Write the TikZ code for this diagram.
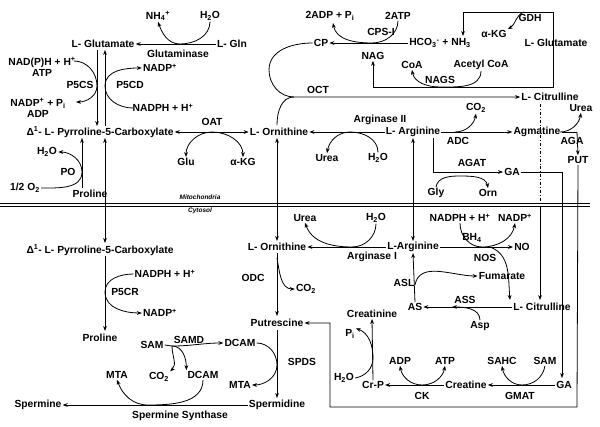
\documentclass[tikz,border=0pt]{standalone}
\usepackage{fontspec}
\setmainfont{Liberation Sans}
\usetikzlibrary{arrows.meta}
\newcommand{\sbs}[1]{\textsubscript{#1}}
\newcommand{\sps}[1]{\textsuperscript{#1}}
\tikzset{
  lb/.style={inner sep=1pt,font=\fontsize{10.3}{11}\selectfont\bfseries},
  sm/.style={inner sep=1pt,font=\fontsize{6.5}{7}\selectfont\bfseries\itshape},
  ar/.style={-{Stealth[length=5pt,width=3.8pt]},thick},
  dar/.style={{Stealth[length=5pt,width=3.8pt]}-{Stealth[length=5pt,width=3.8pt]},thick},
  ln/.style={thick}
}
\begin{document}
\begin{tikzpicture}[x=1pt,y=-1pt]
\useasboundingbox (0,0) rectangle (600,427);

% mitochondria
\node[lb] (nh4) at (158,16) {NH\sbs{4}\sps{+}};
\node[lb] (wa) at (210,16) {H\sbs{2}O};
\node[lb] (glu1) at (103,44) {L- Glutamate};
\node[lb] (gln) at (232,44) {L- Gln};
\node[lb] (gnase) at (178,54) {Glutaminase};
\node[lb,align=center] (nadph1) at (42,67) {NAD(P)H + H\sps{+}\\ATP};
\node[lb,align=center] (nadp1) at (38,108) {NADP\sps{+} + P\sbs{i}\\ADP};
\node[lb] (p5cs) at (80,85) {P5CS};
\node[lb] (p5cd) at (130,85) {P5CD};
\node[lb] (nadp2) at (160,68) {NADP\sps{+}};
\node[lb] (nadph2) at (163,108) {NADPH + H\sps{+}};
\node[lb] (p5ca) at (100,132) {Δ\sps{1}- L- Pyrroline-5-Carboxylate};
\node[lb] (oat) at (212,122) {OAT};
\node[lb] (glu2) at (186,162) {Glu};
\node[lb] (akg1) at (243,162) {α-KG};
\node[lb] (orna) at (279,132) {L- Ornithine};
\node[lb] (wb) at (47,152) {H\sbs{2}O};
\node[lb] (po) at (68,172) {PO};
\node[lb] (oxy) at (25,188) {1/2 O\sbs{2}};
\node[lb] (pro1) at (90,194) {Proline};
\node[sm] (mito) at (200,197) {Mitochondria};
\node[sm] (cyto) at (200,211) {Cytosol};

\node[lb] (cp) at (321,43) {CP};
\node[lb] (adp2) at (330,16) {2ADP + P\sbs{i}};
\node[lb] (atp2) at (398,16) {2ATP};
\node[lb] (cps) at (381,32) {CPS-I};
\node[lb] (hco) at (440,43) {HCO\sbs{3}\sps{-} + NH\sbs{3}};
\node[lb] (nag) at (373,56) {NAG};
\node[lb] (gdh) at (530,18) {GDH};
\node[lb] (akg2) at (494,34) {α-KG};
\node[lb] (glu3) at (556,43) {L- Glutamate};
\node[lb] (coa) at (412,65) {CoA};
\node[lb] (acoa) at (481,65) {Acetyl CoA};
\node[lb] (nags) at (440,80) {NAGS};
\node[lb] (oct) at (318,90) {OCT};
\node[lb] (cita) at (550,97) {L- Citrulline};
\node[lb] (arg2) at (380,120) {Arginase II};
\node[lb] (arga) at (413,132) {L- Arginine};
\node[lb] (urea1) at (327,158) {Urea};
\node[lb] (wc) at (378,158) {H\sbs{2}O};
\node[lb] (co2a) at (476,108) {CO\sbs{2}};
\node[lb] (adc) at (458,141) {ADC};
\node[lb] (agm) at (537,132) {Agmatine};
\node[lb] (urea2) at (581,108) {Urea};
\node[lb] (aga) at (572,141) {AGA};
\node[lb] (put) at (578,160) {PUT};
\node[lb] (agat) at (472,163) {AGAT};
\node[lb] (gaa) at (512,172) {GA};
\node[lb] (gly) at (436,193) {Gly};
\node[lb] (orn3) at (488,193) {Orn};

% cytosol
\node[lb] (urea3) at (305,218) {Urea};
\node[lb] (wd) at (376,218) {H\sbs{2}O};
\node[lb] (ornb) at (277,247) {L- Ornithine};
\node[lb] (argb) at (413,247) {L-Arginine};
\node[lb] (arg1) at (372,257) {Arginase I};
\node[lb] (nadph3) at (460,218) {NADPH + H\sps{+}};
\node[lb] (nadp3) at (515,218) {NADP\sps{+}};
\node[lb] (bh4) at (472,238) {BH\sbs{4}};
\node[lb] (no) at (522,247) {NO};
\node[lb] (nos) at (485,258) {NOS};
\node[lb] (asl) at (404,283) {ASL};
\node[lb] (fum) at (502,276) {Fumarate};
\node[lb] (as) at (415,307) {AS};
\node[lb] (ass) at (465,300) {ASS};
\node[lb] (citb) at (542,307) {L- Citrulline};
\node[lb] (asp) at (480,326) {Asp};
\node[lb] (crn) at (372,314) {Creatinine};
\node[lb] (pi) at (350,334) {P\sbs{i}};
\node[lb] (we) at (344,378) {H\sbs{2}O};
\node[lb] (crp) at (373,385) {Cr-P};
\node[lb] (adp3) at (400,361) {ADP};
\node[lb] (atp3) at (445,361) {ATP};
\node[lb] (cre) at (466,385) {Creatine};
\node[lb] (ck) at (422,396) {CK};
\node[lb] (sahc) at (502,361) {SAHC};
\node[lb] (sam2) at (545,361) {SAM};
\node[lb] (gmat) at (520,396) {GMAT};
\node[lb] (gab) at (564,385) {GA};
\node[lb] (p5cb) at (100,250) {Δ\sps{1}- L- Pyrroline-5-Carboxylate};
\node[lb] (nadph4) at (165,274) {NADPH + H\sps{+}};
\node[lb] (p5cr) at (125,292) {P5CR};
\node[lb] (nadp4) at (160,313) {NADP\sps{+}};
\node[lb] (pro2) at (100,338) {Proline};
\node[lb] (odc) at (253,278) {ODC};
\node[lb] (co2b) at (306,289) {CO\sbs{2}};
\node[lb] (putr) at (277,323) {Putrescine};
\node[lb] (spds) at (302,362) {SPDS};
\node[lb] (sam1) at (152,345) {SAM};
\node[lb] (samd) at (189,340) {SAMD};
\node[lb] (dcam1) at (240,343) {DCAM};
\node[lb] (co2c) at (159,377) {CO\sbs{2}};
\node[lb] (dcam2) at (203,375) {DCAM};
\node[lb] (mta1) at (117,375) {MTA};
\node[lb] (mta2) at (240,385) {MTA};
\node[lb] (spd) at (277,405) {Spermidine};
\node[lb] (spm) at (38,405) {Spermine};
\node[lb] (spms) at (180,416) {Spermine Synthase};

% membrane
\draw[ln] (0,203) -- (590,203);
\draw[ln] (0,206.5) -- (590,206.5);

% glutaminase
\draw[ar] (gln) -- (glu1);
\draw[ar] (wa.south) to[out=-90,in=0] (180,44) to[out=180,in=-70] (nh4.south);
% P5CS / P5CD
\draw[ar] (97,50) -- (97,126);
\draw[ar] (105,126) -- (105,50);
\draw[ar] (74,61) to[out=0,in=90] (97,86) to[out=-90,in=0] (76,102);
\draw[ar] (133,108) to[out=180,in=-90] (105,86) to[out=90,in=180] (nadp2.west);
% OAT
\draw[dar] (p5ca) -- (orna);
\draw[ar] (212,132) to[out=180,in=90] (glu2.north);
\draw[ar] (212,132) to[out=0,in=90] (akg1.north);
% PO
\draw[ar] (82,188) -- (82,138);
\draw[ar] (oxy.east) to[out=0,in=-90] (82,172) to[out=90,in=0] (wb.east);
% CPS-I
\draw[ar] (hco) -- (cp);
\draw[ar] (atp2.south) to[out=-90,in=0] (372,43) to[out=180,in=-80] (333,23);
% GDH / NAGS box
\draw[ar] (553,12) -- (463,12) -- (463,36);
\draw[ar] (524,12) to[out=-160,in=30] (akg2.north east);
\draw[ar] (553,12) -- (553,87) -| (nag.south);
\draw[ar] (acoa.south) to[out=-90,in=0] (440,87) to[out=180,in=-80] (coa.south);
% OCT
\coordinate (oj) at (294,97);
\draw[ar] (cp.west) to[out=180,in=90] (269,70) to[out=-90,in=180] (oj) -- (cita.west);
\draw[ln] (277,125) to[out=90,in=180] (oj);
% arginase II
\draw[ar] (arga) -- (orna);
\draw[ar] (wc.north) to[out=90,in=0] (350,132) to[out=180,in=80] (urea1.north);
% ADC / AGA
\draw[ar] (arga) -- (agm);
\draw[ar] (455,132) to[out=0,in=-100] (co2a.south);
\draw[ln] (agm.east) -- (577,132);
\draw[ar] (577,132) -- (put.north);
\draw[ar] (560,132) to[out=0,in=-100] (urea2.south);
% AGAT
\draw[ar] (433,138) |- (gaa.west);
\draw[ar] (gly.north) to[out=80,in=180] (460,176) to[out=0,in=100] (orn3.north);
\draw[ar] (gaa.east) -| (562,378);
% citrulline link
\draw[thick,dash dot] (540,104) -- (540,203);
\draw[ar] (540,206) -- (540,300);
% PUT link
\draw[ar] (put.south) -- (577,407) -| (330,323) -- (putr.east);
% long verticals
\draw[dar] (105,138) -- (105,243);
\draw[dar] (277,138) -- (277,241);
\draw[dar] (arga.south) -- (argb.north);
% arginase I
\draw[ar] (argb) -- (ornb);
\draw[ar] (wd.south) to[out=-90,in=0] (352,247) to[out=180,in=-70] (urea3.south);
% NOS
\draw[ar] (argb) -- (no);
\draw[ar] (nadph3.south) to[out=-90,in=180] (482,247) to[out=0,in=-100] (nadp3.south);
\draw[ar] (490,247) to[out=-20,in=95] (510,300);
% ASL / ASS
\draw[ar] (as.north) -- (argb.south);
\draw[ar] (415,285) to[out=80,in=180] (fum.west);
\draw[ar] (citb) -- (as);
\draw[ar] (asp.north) to[out=90,in=0] (452,307);
% creatine
\draw[ar] (gab) -- (cre);
\draw[ar] (sam2.south) to[out=-100,in=0] (522,385) to[out=180,in=-80] (sahc.south);
\draw[ar] (cre) -- (crp);
\draw[ar] (422,385) to[out=180,in=-80] (adp3.south);
\draw[ar] (422,385) to[out=0,in=-100] (atp3.south);
\draw[ar] (crp.north) -- (crn.south);
\draw[ar] (we.east) to[out=10,in=-90] (373,358) to[out=90,in=-20] (pi.north east);
% P5CR
\draw[ar] (105,256) -- (105,331);
\draw[ar] (nadph4.west) to[out=180,in=90] (105,292) to[out=-90,in=180] (nadp4.west);
% ODC / SPDS
\draw[ar] (277,253) -- (277,316);
\draw[ar] (277,258) to[out=-80,in=180] (co2b.west);
\draw[ar] (277,330) -- (277,398);
\draw[ar] (dcam1.east) to[out=0,in=90] (277,365) to[out=-90,in=0] (mta2.east);
% SAMD
\draw[ln] (sam1.east) -- (172,346);
\draw[ar] (172,346) to[out=0,in=180] (dcam1.west);
\draw[ar] (172,346) to[out=-90,in=45] (co2c.north east);
\draw[ar] (172,346) to[out=0,in=90] (dcam2.north west);
% spermine synthase
\draw[ar] (spd) -- (spm);
\draw[ar] (dcam2.south) to[out=-90,in=0] (148,405) to[out=180,in=-70] (mta1.south);
\end{tikzpicture}
\end{document}
